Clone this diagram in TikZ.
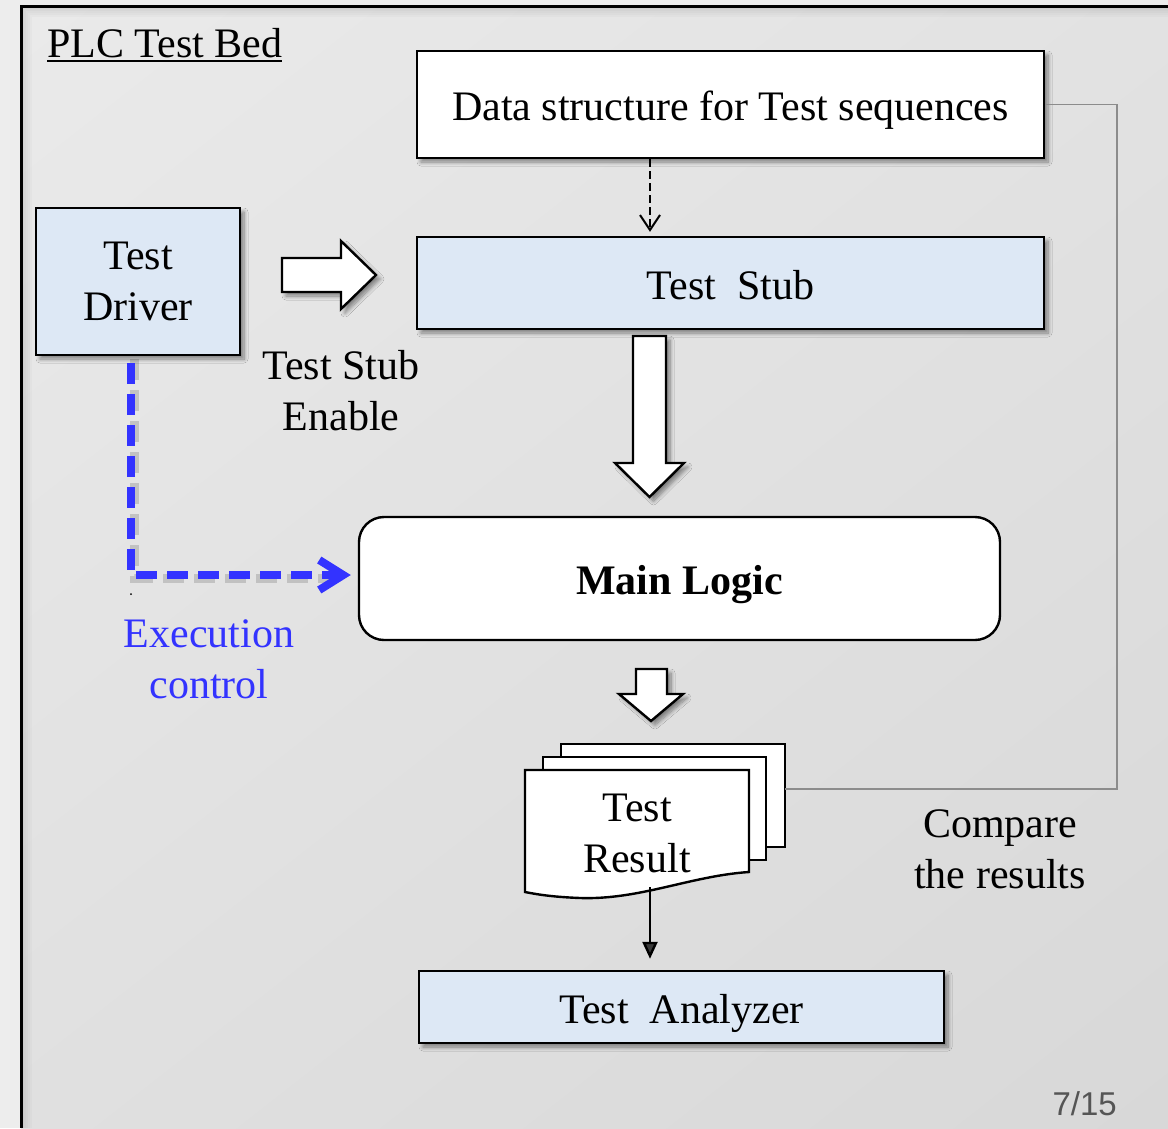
\documentclass[tikz,border=0pt]{standalone}
\usepackage{fontspec}
\setmainfont{Liberation Serif}
\newfontfamily\pagenumfont{Liberation Sans}
\usetikzlibrary{arrows.meta,shadows.blur,shadings}

\definecolor{bedouter}{HTML}{EDEDED}
\definecolor{bedUL}{HTML}{EAEAEA}
\definecolor{bedUR}{HTML}{E2E2E2}
\definecolor{bedLL}{HTML}{E0E0E0}
\definecolor{bedLR}{HTML}{D8D8D8}
\definecolor{boxblue}{HTML}{DDE8F5}
\definecolor{ctrlblue}{HTML}{3333FF}
\definecolor{linkgray}{HTML}{8C8C8C}
\definecolor{pagegray}{HTML}{555555}

\begin{document}
\begin{tikzpicture}[x=1pt,y=-1pt,
  bigfont/.style={font=\fontsize{42}{51}\selectfont},
  txt/.style={bigfont, align=center, inner sep=0pt},
  softshadow/.style={blur shadow={shadow xshift=4pt,shadow yshift=-4pt,
      shadow blur radius=4pt,shadow blur steps=8,shadow opacity=45}},
  stepbox/.style={draw=black, line width=2.4pt, inner sep=0pt, bigfont,
      text height=32pt, text depth=0pt, softshadow},
  blockarrow/.style={fill=white, draw=black, line width=2.4pt, line join=miter, softshadow},
  docpage/.style={fill=white, draw=black, line width=2.4pt, line join=miter},
  ctrl/.style={ctrlblue, line width=8pt, dash pattern=on 21pt off 10pt,
      -{Straight Barb[length=24pt,width=30pt]}},
]
\useasboundingbox (0,0) rectangle (1168,1128);

% page and test-bed panel
\fill[bedouter] (0,0) rectangle (1168,1128);
\shade[upper left=bedUL, upper right=bedUR, lower left=bedLL, lower right=bedLR]
  (21,6) rectangle (1168,1128);
\foreach \d/\op in {2/0.10,4/0.08,6/0.06,8/0.04,10/0.02}
  \draw[black, opacity=\op, line width=2pt] ({21+\d},1128) -- ({21+\d},{6+\d}) -- (1168,{6+\d});
\draw[line width=3pt] (21,1128) -- (21,6) -- (1168,6);

% title
\node[txt, anchor=base west] (title) at (47,57) {PLC Test Bed};
\draw[line width=2pt] ([yshift=-4pt]title.base west) -- ([yshift=-4pt]title.base east);

% main blocks
\node[stepbox, fill=white, minimum width=627pt, minimum height=107pt] (data) at (730.5,104.5)
  {Data structure for Test sequences};
\node[stepbox, fill=boxblue, minimum width=627pt, minimum height=92pt] (stub) at (730.5,283)
  {Test~~Stub};
\node[draw=black, line width=2.4pt, fill=boxblue, softshadow, txt,
      minimum width=204pt, minimum height=147pt] (driver) at (138,281.5) {Test\\Driver};
\node[draw=black, line width=2.4pt, fill=white, rounded corners=25pt, inner sep=0pt,
      font=\fontsize{42}{51}\selectfont\bfseries, text height=32pt, text depth=0pt,
      minimum width=641pt, minimum height=123pt] (main) at (679.5,578.5) {Main Logic};
\node[stepbox, fill=boxblue, minimum width=525pt, minimum height=72pt] (analyzer) at (681.5,1007)
  {Test~~Analyzer};

% labels
\node[txt] (enable) at (341,391) {Test Stub\\Enable};
\node[txt, text=ctrlblue] (execlbl) at (209,659) {Execution\\control};
\node[txt] (cmplbl) at (1000,849) {Compare\\the results};
\node[inner sep=0pt, anchor=base east, text=pagegray,
      font=\pagenumfont\fontsize{33}{38}\selectfont] (pagenum) at (1117,1115) {7/15};

% block arrows
\path[blockarrow] (282,258) -- (341,258) -- (341,241) -- (376,275) -- (341,309)
  -- (341,292) -- (282,292) -- cycle;
\path[blockarrow] (633,336) -- (666,336) -- (666,463) -- (684,463) -- (649.5,497)
  -- (615,463) -- (633,463) -- cycle;
\path[blockarrow] (636,669) -- (667,669) -- (667,694) -- (683,694) -- (651,721)
  -- (619,694) -- (636,694) -- cycle;

% stacked result documents
\path[docpage] (561,744) rectangle (785,847);
\path[docpage] (543,757) rectangle (766,860);
\path[docpage] (525,892) -- (525,770) -- (749,770) -- (749,872)
  .. controls (690,876) and (640,900) .. (580,898)
  .. controls (555,897) and (540,895) .. (525,892) -- cycle;
\node[txt] (result) at (637,833.6) {Test\\Result};

% connectors
\coordinate (seqcol) at (650,0);
\draw[line width=2pt, dash pattern=on 8pt off 4pt,
      -{Straight Barb[length=15pt,width=20pt]}, shorten >=4pt]
  (data.south -| seqcol) -- (stub.north -| seqcol);

\coordinate (ctrlcol) at (131,0);
\coordinate (ctrlrow) at (0,575);
\draw[black, opacity=0.15, line width=9pt, dash pattern=on 21pt off 10pt, shorten >=30pt]
  ([xshift=3pt,yshift=-3pt]driver.south -| ctrlcol) |- ([xshift=3pt,yshift=-3pt]main.west |- ctrlrow);
\draw[ctrl, shorten >=7pt]
  ([yshift=-7pt]driver.south -| ctrlcol) |- (main.west |- ctrlrow);
\fill (131,594) circle (1pt);

\coordinate (rail) at (1117,0);
\coordinate (stackedge) at (785,789);
\draw[linkgray, line width=1.3pt] (data.east) -- (data.east -| rail) |- (stackedge);

\coordinate (docbot) at (650,887);
\draw[line width=2.4pt, -{Triangle[length=17pt,width=15pt]}, shorten >=11pt]
  (docbot) -- (analyzer.north -| docbot);
\end{tikzpicture}
\end{document}
